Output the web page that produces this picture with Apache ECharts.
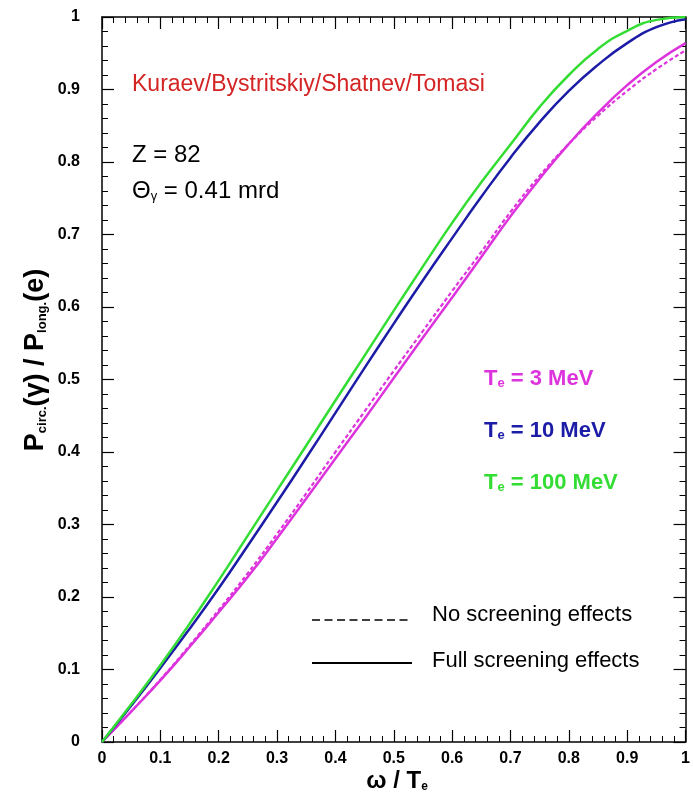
<!DOCTYPE html>
<html>
<head>
<meta charset="utf-8">
<script src="https://cdn.jsdelivr.net/npm/echarts@6/dist/echarts.min.js"></script>
<style>html,body{margin:0;padding:0;background:#fff}#c{width:693px;height:797px}</style>
</head>
<body>
<div id="c"></div>
<script>
// ω / Te sample points
const xValues = [0, 0.05, 0.1, 0.15, 0.2, 0.25, 0.3, 0.35, 0.4, 0.45, 0.5, 0.55, 0.6, 0.65, 0.7, 0.75, 0.8, 0.85, 0.9, 0.95, 1.0];
// Te = 100 MeV (full screening)
const green100 = [0, 0.052, 0.106, 0.163, 0.223, 0.285, 0.347, 0.409, 0.471, 0.533, 0.595, 0.656, 0.716, 0.772, 0.824, 0.876, 0.920, 0.956, 0.981, 0.996, 1.0];
// Te = 10 MeV (full screening)
const blue10 = [0, 0.050, 0.102, 0.156, 0.212, 0.271, 0.331, 0.392, 0.454, 0.516, 0.577, 0.637, 0.695, 0.752, 0.806, 0.855, 0.898, 0.934, 0.964, 0.986, 0.997];
// Te = 3 MeV (full screening)
const magenta3 = [0, 0.042, 0.085, 0.131, 0.179, 0.228, 0.281, 0.336, 0.391, 0.446, 0.502, 0.558, 0.613, 0.669, 0.725, 0.777, 0.825, 0.868, 0.906, 0.938, 0.964];
// Te = 3 MeV (no screening)
const magenta3NoScr = [0, 0.042, 0.086, 0.133, 0.182, 0.233, 0.287, 0.343, 0.400, 0.456, 0.512, 0.567, 0.622, 0.676, 0.731, 0.781, 0.825, 0.864, 0.898, 0.928, 0.954];
const xTicks = [0, 0.1, 0.2, 0.3, 0.4, 0.5, 0.6, 0.7, 0.8, 0.9, 1];

const pairs = ys => xValues.map((x, i) => [x, ys[i]]);
const C_GREEN = '#33dd33', C_BLUE = '#1c1ca6', C_MAG = '#dd33dd', C_RED = '#d42424';
const FONT = 'Liberation Sans';
const fmt = v => (v === 0 ? '0' : v === 1 ? '1' : v.toFixed(1));

const chart = echarts.init(document.getElementById('c'), null, {renderer: 'canvas'});
const axisCommon = {
  type: 'value', min: 0, max: 1, interval: 0.1,
  splitLine: {show: false},
  axisLine: {show: true, onZero: false, lineStyle: {color: '#000', width: 1.5}},
  axisTick: {show: true, inside: true, length: 12, lineStyle: {color: '#000', width: 1.2}},
  minorTick: {show: true, splitNumber: 5, length: 6, lineStyle: {color: '#000', width: 1}},
};
const teLabel = (txt, color) => ({
  text: '{b|T}{s|e}{b| = ' + txt + '}',
  rich: {b: {fontFamily: FONT, fontWeight: 'bold', fontSize: 22, fill: color, verticalAlign: 'bottom', lineHeight: 26},
         s: {fontFamily: FONT, fontWeight: 'bold', fontSize: 13, fill: color, verticalAlign: 'bottom', lineHeight: 18}}
});
chart.setOption({
  animation: false,
  backgroundColor: '#fff',
  grid: {left: 102, right: 5, top: 17, bottom: 55},
  xAxis: [
    Object.assign({}, axisCommon, {
      position: 'bottom',
      axisLabel: {show: true, margin: 9, fontFamily: FONT, fontWeight: 'bold', fontSize: 16, color: '#000', formatter: fmt}
    }),
    Object.assign({}, axisCommon, {position: 'top', axisLabel: {show: false}})
  ],
  yAxis: [
    Object.assign({}, axisCommon, {
      position: 'left',
      axisLabel: {show: true, margin: 22, fontFamily: FONT, fontWeight: 'bold', fontSize: 16, color: '#000', formatter: fmt}
    }),
    Object.assign({}, axisCommon, {position: 'right', axisLabel: {show: false}})
  ],
  series: [
    {type: 'line', name: 'Te = 3 MeV no screening', data: pairs(magenta3NoScr), smooth: true, showSymbol: false,
     lineStyle: {color: C_MAG, width: 2.2, type: [4, 2.5]}},
    {type: 'line', name: 'Te = 3 MeV', data: pairs(magenta3), smooth: true, showSymbol: false,
     lineStyle: {color: C_MAG, width: 2.5}},
    {type: 'line', name: 'Te = 10 MeV', data: pairs(blue10), smooth: true, showSymbol: false,
     lineStyle: {color: C_BLUE, width: 2.5}},
    {type: 'line', name: 'Te = 100 MeV', data: pairs(green100), smooth: true, showSymbol: false,
     lineStyle: {color: C_GREEN, width: 2.5}}
  ],
  graphic: [
    // axis titles
    {type: 'text', x: 34, y: 360, rotation: Math.PI / 2, style: {
      text: '{b|P}{s|circ.}{b|(γ) / P}{s|long.}{b|(e)}', align: 'center', verticalAlign: 'middle',
      rich: {b: {fontFamily: FONT, fontWeight: 'bold', fontSize: 27, fill: '#000', verticalAlign: 'bottom', lineHeight: 30},
             s: {fontFamily: FONT, fontWeight: 'bold', fontSize: 13, fill: '#000', verticalAlign: 'bottom', lineHeight: 20}}}},
    {type: 'text', x: 397, y: 780, style: {
      text: '{b|ω / T}{s|e}', align: 'center', verticalAlign: 'middle',
      rich: {b: {fontFamily: FONT, fontWeight: 'bold', fontSize: 24, fill: '#000', verticalAlign: 'bottom', lineHeight: 26},
             s: {fontFamily: FONT, fontWeight: 'bold', fontSize: 12, fill: '#000', verticalAlign: 'bottom', lineHeight: 18}}}},
    // annotations
    {type: 'text', x: 132, y: 85, style: {text: 'Kuraev/Bystritskiy/Shatnev/Tomasi', fill: C_RED, verticalAlign: 'middle',
      font: '23px "Liberation Sans", sans-serif'}},
    {type: 'text', x: 132, y: 155, style: {text: 'Z = 82', fill: '#000', verticalAlign: 'middle', font: '24px "Liberation Sans", sans-serif'}},
    {type: 'text', x: 132, y: 189, style: {
      text: '{b|Θ}{s|γ}{b| = 0.41 mrd}', verticalAlign: 'middle',
      rich: {b: {fontFamily: FONT, fontSize: 24, fill: '#000', verticalAlign: 'bottom', lineHeight: 28},
             s: {fontFamily: FONT, fontSize: 13, fill: '#000', verticalAlign: 'bottom', lineHeight: 20}}}},
    {type: 'text', x: 484, y: 377, style: Object.assign({verticalAlign: 'middle'}, teLabel('3 MeV', C_MAG))},
    {type: 'text', x: 484, y: 429, style: Object.assign({verticalAlign: 'middle'}, teLabel('10 MeV', C_BLUE))},
    {type: 'text', x: 484, y: 481, style: Object.assign({verticalAlign: 'middle'}, teLabel('100 MeV', C_GREEN))},
    // line-style key
    {type: 'line', shape: {x1: 312, y1: 620, x2: 412, y2: 620}, style: {stroke: '#000', lineWidth: 1.5, lineDash: [8, 4.5]}},
    {type: 'text', x: 432, y: 615, style: {text: 'No screening effects', fill: '#000', verticalAlign: 'middle', font: '22px "Liberation Sans", sans-serif'}},
    {type: 'line', shape: {x1: 312, y1: 663, x2: 412, y2: 663}, style: {stroke: '#000', lineWidth: 2}},
    {type: 'text', x: 432, y: 661, style: {text: 'Full screening effects', fill: '#000', verticalAlign: 'middle', font: '22px "Liberation Sans", sans-serif'}}
  ]
});
</script>
</body>
</html>
